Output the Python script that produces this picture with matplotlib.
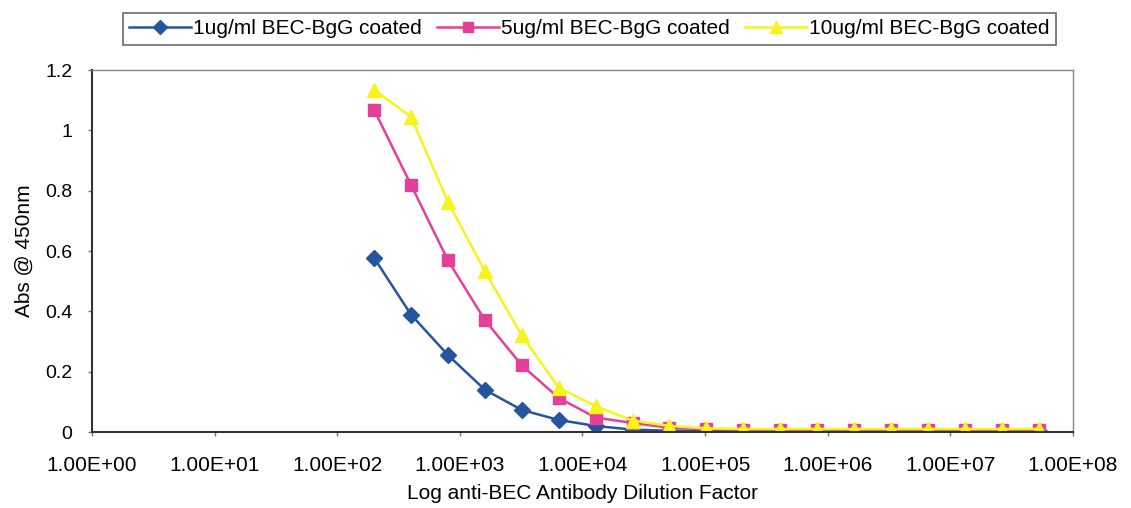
import matplotlib
matplotlib.use("Agg")
import matplotlib.pyplot as plt
import numpy as np

plt.rcParams['font.family'] = ['Liberation Sans', 'DejaVu Sans']

dilution = [200 * 2 ** i for i in range(19)]
series_labels = ["1ug/ml BEC-BgG coated", "5ug/ml BEC-BgG coated", "10ug/ml BEC-BgG coated"]
abs_1ug = [0.577, 0.389, 0.255, 0.140, 0.073, 0.040, 0.020, 0.008, 0.004, 0.003, 0.003, 0.003,
           0.003, 0.003, 0.003, 0.003, 0.003, 0.003, 0.003]
abs_5ug = [1.068, 0.819, 0.569, 0.371, 0.221, 0.113, 0.048, 0.030, 0.014, 0.009, 0.008, 0.008,
           0.008, 0.008, 0.008, 0.008, 0.008, 0.008, 0.008]
abs_10ug = [1.134, 1.045, 0.763, 0.533, 0.320, 0.147, 0.086, 0.038, 0.020, 0.012, 0.010, 0.010,
            0.010, 0.010, 0.010, 0.010, 0.010, 0.010, 0.010]
xtick_values = [10.0 ** k for k in range(9)]
xtick_labels = ['1.00E+00', '1.00E+01', '1.00E+02', '1.00E+03', '1.00E+04',
                '1.00E+05', '1.00E+06', '1.00E+07', '1.00E+08']
ytick_values = [0, 0.2, 0.4, 0.6, 0.8, 1, 1.2]
ytick_labels = ['0', '0.2', '0.4', '0.6', '0.8', '1', '1.2']

fig = plt.figure(figsize=(11.31, 5.08), dpi=100)
ax = fig.add_axes([0.0813, 0.1496, 0.8674, 0.7126])

styles = [
    dict(color='#23569f', marker='D', markersize=8),
    dict(color='#e4409a', marker='s', markersize=8.5),
    dict(color='#f6f41c', marker='^', markersize=9.5),
]
handles = []
for ys, lab, st in zip([abs_1ug, abs_5ug, abs_10ug], series_labels, styles):
    h, = ax.plot(dilution, ys, color=st['color'], marker=st['marker'],
                 markersize=st['markersize'], markerfacecolor=st['color'],
                 markeredgecolor=st['color'], linewidth=1.8, label=lab)
    handles.append(h)

ax.set_xscale('log')
ax.set_xlim(1, 1e8)
ax.set_ylim(0, 1.2)
ax.set_xticks(xtick_values)
ax.set_xticklabels(xtick_labels)
ax.xaxis.set_minor_locator(matplotlib.ticker.NullLocator())
ax.set_yticks(ytick_values)
ax.set_yticklabels(ytick_labels)
ax.tick_params(axis='x', labelsize=15, direction='out', length=3, width=1,
               color='#777777', pad=14)
ax.tick_params(axis='y', labelsize=14, direction='out', length=3, width=1,
               color='#777777', pad=11)

for side in ['left', 'bottom']:
    ax.spines[side].set_color('#333333')
    ax.spines[side].set_linewidth(1.5)
for side in ['top', 'right']:
    ax.spines[side].set_color('#888888')
    ax.spines[side].set_linewidth(1.0)

ax.set_xlabel('Log anti-BEC Antibody Dilution Factor', fontsize=15, labelpad=7)
ax.set_ylabel('Abs @ 450nm', fontsize=15, labelpad=8)

leg = fig.legend(handles=handles, loc='center', bbox_to_anchor=(0.521, 0.943), ncol=3,
                 fontsize=15, frameon=True, fancybox=False, edgecolor='#444444',
                 handlelength=3.0, handletextpad=0.1, columnspacing=0.7,
                 borderpad=0.3, borderaxespad=0, markerscale=0.85)
leg.get_frame().set_linewidth(1.2)

fig.savefig('out.png', dpi=100)
